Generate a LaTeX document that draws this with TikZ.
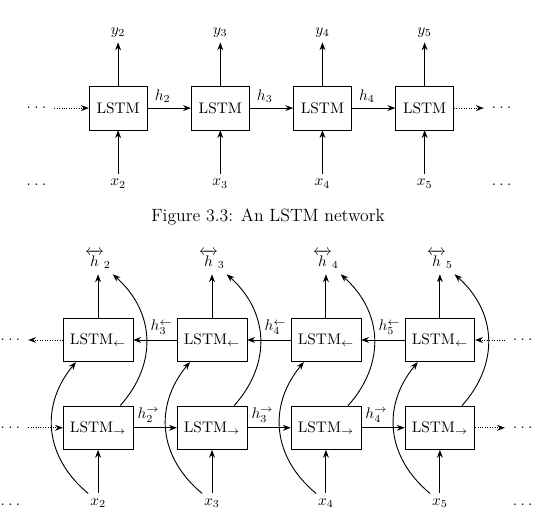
\documentclass[tikz,border=0pt]{standalone}
\usepackage{amsmath,amssymb}
\usetikzlibrary{arrows.meta,positioning}
\newcommand{\middots}{$\mathord{\cdot}\mkern4mu\mathord{\cdot}\mkern4mu\mathord{\cdot}$}
\newcommand{\lowdots}{$\mathord{.}\mkern4mu\mathord{.}\mkern4mu\mathord{.}$}

\begin{document}
\begin{tikzpicture}[
  node distance=1cm,
  cell/.style={draw, minimum width=1.33cm, minimum height=1cm, align=center},
  bicell/.style={draw, minimum width=1.6cm, minimum height=1cm, align=center},
  dots/.style={inner xsep=5pt, inner ysep=2pt},
  arrow/.style={-{Stealth[length=1.8mm]}, semithick},
  dotarrow/.style={-{Stealth[length=1.8mm]}, semithick, densely dotted}
]
\useasboundingbox (0,0) rectangle (12.32,-11.90);

% plain LSTM chain
\node[cell] (l2) at (2.71,-2.48) {LSTM};
\node[cell, right=of l2] (l3) {LSTM};
\node[cell, right=of l3] (l4) {LSTM};
\node[cell, right=of l4] (l5) {LSTM};
\node[above=of l2] (y2) {$y_2$};
\node[above=of l3] (y3) {$y_3$};
\node[above=of l4] (y4) {$y_4$};
\node[above=of l5] (y5) {$y_5$};
\node[below=of l2] (x2) {$x_2$};
\node[below=of l3] (x3) {$x_3$};
\node[below=of l4] (x4) {$x_4$};
\node[below=of l5] (x5) {$x_5$};
\node[dots, left=0.795cm of l2] (ldots) {\middots};
\node[dots, right=0.685cm of l5] (rdots) {\middots};
\node[dots, anchor=base] (ldotsx) at (ldots |- x2.base) {\lowdots};
\node[dots, anchor=base] (rdotsx) at (rdots |- x5.base) {\lowdots};

\draw[dotarrow] (ldots) -- (l2);
\draw[arrow] (l2) -- node[above, pos=0.35] {$h_2$} (l3);
\draw[arrow] (l3) -- node[above, pos=0.35] {$h_3$} (l4);
\draw[arrow] (l4) -- node[above, pos=0.35] {$h_4$} (l5);
\draw[dotarrow] (l5) -- (rdots);
\draw[arrow] (l2) -- (y2);
\draw[arrow] (l3) -- (y3);
\draw[arrow] (l4) -- (y4);
\draw[arrow] (l5) -- (y5);
\draw[arrow] (x2) -- (l2);
\draw[arrow] (x3) -- (l3);
\draw[arrow] (x4) -- (l4);
\draw[arrow] (x5) -- (l5);

\node[font=\fontsize{11.6pt}{14pt}\selectfont] (cap) at (6.15,-4.98) {Figure 3.3: An LSTM network};

% bidirectional chain
\node[bicell] (b2) at (2.25,-7.80) {LSTM$_{\leftarrow}$};
\node[bicell, right=of b2] (b3) {LSTM$_{\leftarrow}$};
\node[bicell, right=of b3] (b4) {LSTM$_{\leftarrow}$};
\node[bicell, right=of b4] (b5) {LSTM$_{\leftarrow}$};
\node[bicell, below=of b2] (f2) {LSTM$_{\rightarrow}$};
\node[bicell, below=of b3] (f3) {LSTM$_{\rightarrow}$};
\node[bicell, below=of b4] (f4) {LSTM$_{\rightarrow}$};
\node[bicell, below=of b5] (f5) {LSTM$_{\rightarrow}$};
\node[above=of b2] (hh2) {$\overleftrightarrow{h}_2$};
\node[above=of b3] (hh3) {$\overleftrightarrow{h}_3$};
\node[above=of b4] (hh4) {$\overleftrightarrow{h}_4$};
\node[above=of b5] (hh5) {$\overleftrightarrow{h}_5$};
\node[below=of f2] (bx2) {$x_2$};
\node[below=of f3] (bx3) {$x_3$};
\node[below=of f4] (bx4) {$x_4$};
\node[below=of f5] (bx5) {$x_5$};
\node[dots, left=0.795cm of b2] (bldots) {\middots};
\node[dots, right=0.685cm of b5] (brdots) {\middots};
\node[dots, left=0.795cm of f2] (fldots) {\middots};
\node[dots, right=0.685cm of f5] (frdots) {\middots};
\node[dots, anchor=base] (bxl) at (fldots |- bx2.base) {\lowdots};
\node[dots, anchor=base] (bxr) at (frdots |- bx5.base) {\lowdots};

\draw[dotarrow] (b2) -- (bldots);
\draw[arrow] (b3) -- node[above, pos=0.35] {$h_3^{\leftarrow}$} (b2);
\draw[arrow] (b4) -- node[above, pos=0.35] {$h_4^{\leftarrow}$} (b3);
\draw[arrow] (b5) -- node[above, pos=0.35] {$h_5^{\leftarrow}$} (b4);
\draw[dotarrow] (brdots) -- (b5);
\draw[dotarrow] (fldots) -- (f2);
\draw[arrow] (f2) -- node[above, pos=0.35] {$h_2^{\rightarrow}$} (f3);
\draw[arrow] (f3) -- node[above, pos=0.35] {$h_3^{\rightarrow}$} (f4);
\draw[arrow] (f4) -- node[above, pos=0.35] {$h_4^{\rightarrow}$} (f5);
\draw[dotarrow] (f5) -- (frdots);
\draw[arrow] (b2) -- (hh2);
\draw[arrow] (b3) -- (hh3);
\draw[arrow] (b4) -- (hh4);
\draw[arrow] (b5) -- (hh5);
\draw[arrow] (bx2) -- (f2);
\draw[arrow] (bx3) -- (f3);
\draw[arrow] (bx4) -- (f4);
\draw[arrow] (bx5) -- (f5);
\draw[arrow] (bx2) to[bend left=45, looseness=1.1] (b2);
\draw[arrow] (bx3) to[bend left=45, looseness=1.1] (b3);
\draw[arrow] (bx4) to[bend left=45, looseness=1.1] (b4);
\draw[arrow] (bx5) to[bend left=45, looseness=1.1] (b5);
\draw[arrow] (f2) to[bend right=45, looseness=1.1] (hh2);
\draw[arrow] (f3) to[bend right=45, looseness=1.1] (hh3);
\draw[arrow] (f4) to[bend right=45, looseness=1.1] (hh4);
\draw[arrow] (f5) to[bend right=45, looseness=1.1] (hh5);
\end{tikzpicture}
\end{document}
